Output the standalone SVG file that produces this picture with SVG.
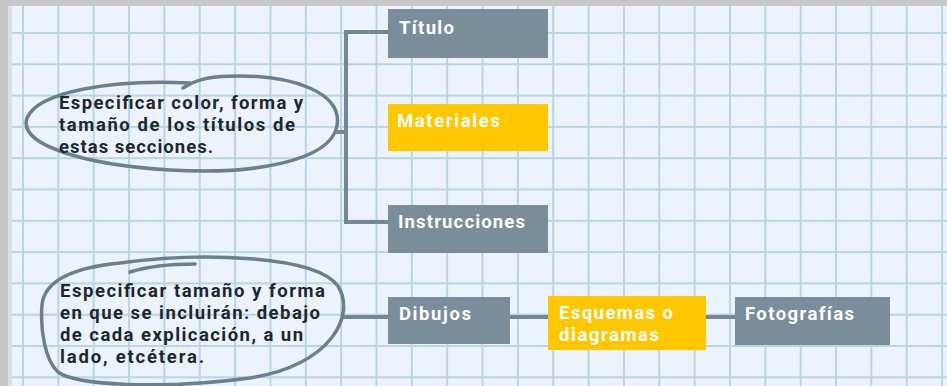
<svg xmlns="http://www.w3.org/2000/svg" width="947" height="386" viewBox="0 0 947 386">
<style>
.box-g{fill:#798d9b}
.box-y{fill:#ffc700}
.lbl{font-family:Roboto,"Open Sans",sans-serif;font-weight:700;font-size:18.5px;fill:#ffffff}
.note{font-family:Roboto,"Open Sans",sans-serif;font-weight:700;font-size:18.5px;fill:#1e272d}
.bubble{fill:none;stroke:#6b808e;stroke-width:3.5;stroke-linecap:round;stroke-linejoin:round}
.conn{fill:none;stroke:#718997;stroke-width:4}
</style>
<defs>
<pattern id="grid" x="22" y="32" width="35.35" height="31.3" patternUnits="userSpaceOnUse">
<rect x="0" y="0" width="2" height="31.3" fill="#b7d5e5"/>
<rect x="0" y="0" width="35.35" height="2" fill="#b7d5e5"/>
</pattern>
</defs>
<rect x="0" y="0" width="947" height="386" fill="#ecf3fc"/>
<rect x="0" y="0" width="947" height="386" fill="url(#grid)"/>
<rect x="0" y="0" width="947" height="6" fill="#c8c8c8"/>
<rect x="0" y="0" width="8" height="386" fill="#c8c8c8"/>
<rect x="8" y="6" width="4" height="380" fill="#dcdfe3"/>

<g id="connectors">
<path class="conn" d="M388 32 H346 V222 H388"/>
<path class="conn" d="M335 132 H346"/>
<path class="conn" d="M342 317 H388"/>
<path class="conn" d="M510 317 H548"/>
<path class="conn" d="M706 317 H735"/>
</g>

<g id="note-top">
<path class="bubble" d="M190 83 C110 79 38 92 27 118 C18 145 85 165 170 170 C250 175 330 162 337 126 C343 92 292 76 240 76 C214 76 198 78 183 88"/>
<text class="note" x="59" y="109" textLength="244" lengthAdjust="spacing">Especificar color, forma y</text>
<text class="note" x="59" y="131" textLength="236" lengthAdjust="spacing">tamaño de los títulos de</text>
<text class="note" x="59" y="153" textLength="154" lengthAdjust="spacing">estas secciones.</text>
</g>

<g id="note-bottom">
<path class="bubble" d="M195 264 C170 264 146 267 130 272 M120 263 C200 252 315 255 338 286 C356 315 332 365 250 378 C160 390 75 385 58 372 C45 360 40 330 42 305 C44 282 70 268 120 263"/>
<text class="note" x="60" y="297" textLength="265" lengthAdjust="spacing">Especificar tamaño y forma</text>
<text class="note" x="60" y="319" textLength="260" lengthAdjust="spacing">en que se incluirán: debajo</text>
<text class="note" x="60" y="341" textLength="243" lengthAdjust="spacing">de cada explicación, a un</text>
<text class="note" x="60" y="363" textLength="144" lengthAdjust="spacing">lado, etcétera.</text>
</g>

<g id="titulo">
<rect class="box-g" x="388" y="9" width="160" height="49"/>
<text class="lbl" x="399" y="34" textLength="55" lengthAdjust="spacing">Título</text>
</g>
<g id="materiales">
<rect class="box-y" x="388" y="104" width="160" height="47"/>
<text class="lbl" x="397" y="127" textLength="103" lengthAdjust="spacing">Materiales</text>
</g>
<g id="instrucciones">
<rect class="box-g" x="388" y="205" width="160" height="48"/>
<text class="lbl" x="398" y="228" textLength="127" lengthAdjust="spacing">Instrucciones</text>
</g>
<g id="dibujos">
<rect class="box-g" x="388" y="297" width="122" height="47"/>
<text class="lbl" x="399" y="320" textLength="72" lengthAdjust="spacing">Dibujos</text>
</g>
<g id="esquemas">
<rect class="box-y" x="548" y="296" width="158" height="54"/>
<text class="lbl" x="559" y="319" textLength="114" lengthAdjust="spacing">Esquemas o</text>
<text class="lbl" x="559" y="341" textLength="100" lengthAdjust="spacing">diagramas</text>
</g>
<g id="fotografias">
<rect class="box-g" x="735" y="297" width="155" height="48"/>
<text class="lbl" x="745" y="320" textLength="109" lengthAdjust="spacing">Fotografías</text>
</g>
</svg>
